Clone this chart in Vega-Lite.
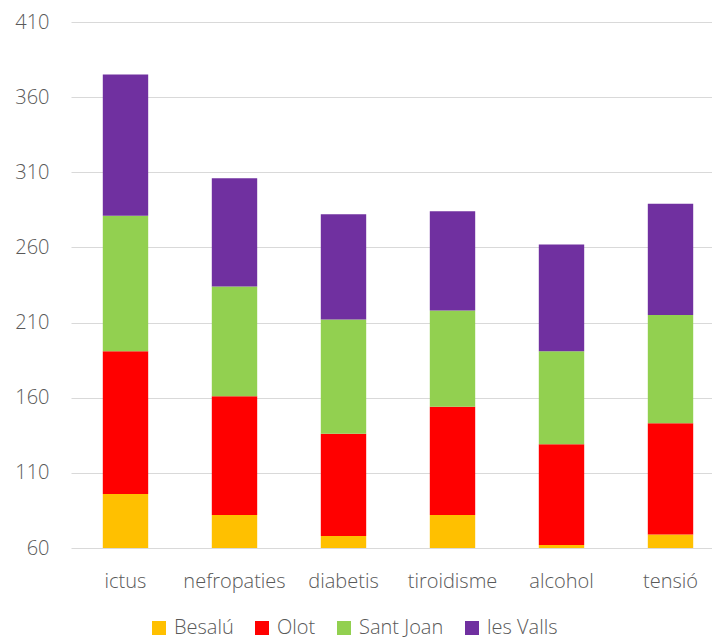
{
  "$schema": "https://vega.github.io/schema/vega-lite/v6.json",
  "width": 640,
  "height": 526,
  "autosize": {"type": "none"},
  "padding": {"left": 71, "top": 22, "right": 1, "bottom": 90},
  "background": "white",
  "config": {
    "font": "Open Sans",
    "view": {"stroke": null},
    "axis": {"labelFont": "Open Sans", "labelFontWeight": 300, "labelColor": "#595959", "labelFontSize": 20}
  },
  "data": {
    "values": [
      {"cat": "ictus", "zona": "Besalú", "v": 96},
      {"cat": "ictus", "zona": "Olot", "v": 95},
      {"cat": "ictus", "zona": "Sant Joan", "v": 90},
      {"cat": "ictus", "zona": "les Valls", "v": 94},
      {"cat": "nefropaties", "zona": "Besalú", "v": 82},
      {"cat": "nefropaties", "zona": "Olot", "v": 79},
      {"cat": "nefropaties", "zona": "Sant Joan", "v": 73},
      {"cat": "nefropaties", "zona": "les Valls", "v": 72},
      {"cat": "diabetis", "zona": "Besalú", "v": 68},
      {"cat": "diabetis", "zona": "Olot", "v": 68},
      {"cat": "diabetis", "zona": "Sant Joan", "v": 76},
      {"cat": "diabetis", "zona": "les Valls", "v": 70},
      {"cat": "tiroidisme", "zona": "Besalú", "v": 82},
      {"cat": "tiroidisme", "zona": "Olot", "v": 72},
      {"cat": "tiroidisme", "zona": "Sant Joan", "v": 64},
      {"cat": "tiroidisme", "zona": "les Valls", "v": 66},
      {"cat": "alcohol", "zona": "Besalú", "v": 62},
      {"cat": "alcohol", "zona": "Olot", "v": 67},
      {"cat": "alcohol", "zona": "Sant Joan", "v": 62},
      {"cat": "alcohol", "zona": "les Valls", "v": 71},
      {"cat": "tensió", "zona": "Besalú", "v": 69},
      {"cat": "tensió", "zona": "Olot", "v": 74},
      {"cat": "tensió", "zona": "Sant Joan", "v": 72},
      {"cat": "tensió", "zona": "les Valls", "v": 74}
    ]
  },
  "mark": {"type": "bar", "clip": true},
  "encoding": {
    "x": {
      "field": "cat",
      "type": "nominal",
      "sort": ["ictus", "nefropaties", "diabetis", "tiroidisme", "alcohol", "tensió"],
      "scale": {"range": [0, 654], "paddingInner": 0.5835, "paddingOuter": 0.2917},
      "axis": {"title": null, "labelAngle": 0, "ticks": false, "domain": false, "labelPadding": 23, "grid": false}
    },
    "y": {
      "field": "v",
      "type": "quantitative",
      "stack": "zero",
      "scale": {"domain": [60, 410], "nice": false, "zero": false},
      "axis": {
        "title": null,
        "values": [60, 110, 160, 210, 260, 310, 360, 410],
        "ticks": false,
        "domain": false,
        "labelPadding": 22,
        "grid": true,
        "gridColor": "#d9d9d9",
        "gridWidth": 1.2
      }
    },
    "color": {
      "field": "zona",
      "type": "nominal",
      "scale": {
        "domain": ["Besalú", "Olot", "Sant Joan", "les Valls"],
        "range": ["#FFC000", "#FF0000", "#92D050", "#7030A0"]
      },
      "legend": {
        "title": null,
        "orient": "none",
        "direction": "horizontal",
        "legendX": 78,
        "legendY": 596,
        "symbolType": "square",
        "symbolSize": 196,
        "symbolStrokeWidth": 0,
        "labelFont": "Open Sans",
        "labelFontWeight": 300,
        "labelFontSize": 20,
        "labelColor": "#595959",
        "labelOffset": 5,
        "labelLimit": 200,
        "columnPadding": 18
      }
    },
    "order": {"field": "zona", "sort": "ascending"}
  }
}
